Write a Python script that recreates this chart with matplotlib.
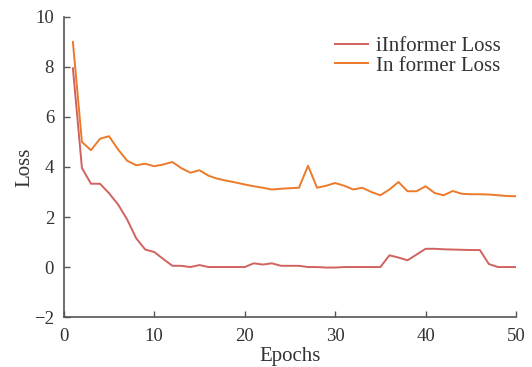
import matplotlib
matplotlib.use("Agg")
import matplotlib.pyplot as plt

epochs = list(range(1, 51))
iinformer_loss = [7.95, 3.96, 3.33, 3.33, 2.95, 2.5, 1.9, 1.15, 0.7, 0.6,
                  0.32, 0.05, 0.05, 0.0, 0.08, 0.0, 0.0, 0.0, 0.0, 0.0,
                  0.15, 0.1, 0.15, 0.05, 0.05, 0.05, 0.0, 0.0, -0.02, -0.02,
                  0.0, 0.0, 0.0, 0.0, 0.0, 0.47, 0.38, 0.27, 0.5, 0.73,
                  0.73, 0.71, 0.7, 0.69, 0.68, 0.68, 0.12, 0.0, 0.0, 0.0]
informer_loss = [9.0, 5.0, 4.67, 5.13, 5.23, 4.7, 4.25, 4.07, 4.13, 4.03,
                 4.1, 4.2, 3.95, 3.77, 3.87, 3.65, 3.53, 3.45, 3.38, 3.3,
                 3.23, 3.17, 3.1, 3.13, 3.15, 3.17, 4.05, 3.17, 3.25, 3.36,
                 3.25, 3.1, 3.17, 3.0, 2.87, 3.1, 3.4, 3.03, 3.03, 3.23,
                 2.96, 2.87, 3.04, 2.93, 2.91, 2.91, 2.9, 2.87, 2.84, 2.83]
xticks = [0, 10, 20, 30, 40, 50]
yticks = [-2, 0, 2, 4, 6, 8, 10]

plt.rcParams['font.family'] = ['Liberation Serif', 'DejaVu Serif']
text_color = '#333333'
spine_color = '#555555'

fig = plt.figure(figsize=(5.32, 3.67), dpi=100)
ax = fig.add_axes([0.120, 0.136, 0.850, 0.818])

ax.plot(epochs, iinformer_loss, color='#d0625f', lw=1.4, label='iInformer Loss')
ax.plot(epochs, informer_loss, color='#ec7a2a', lw=1.4, label='In former Loss')

ax.set_xlim(0, 50)
ax.set_ylim(-2, 10)
ax.set_xticks(xticks)
ax.set_yticks(yticks)
ax.set_xticklabels([str(t) for t in xticks])
ax.set_yticklabels(['\u22122' if t == -2 else str(t) for t in yticks])

for s in ['top', 'right']:
    ax.spines[s].set_visible(False)
for s in ['left', 'bottom']:
    ax.spines[s].set_color(spine_color)
    ax.spines[s].set_linewidth(1.2)

ax.tick_params(direction='in', length=4, width=1.0, colors=spine_color,
               labelcolor=text_color, labelsize=13.5)
ax.tick_params(axis='y', pad=7)
ax.tick_params(axis='x', pad=8)

ax.set_xlabel('Epochs', fontsize=15, color=text_color, labelpad=1)
ax.set_ylabel('Loss', fontsize=15, color=text_color, labelpad=0)

leg = ax.legend(loc='upper right', bbox_to_anchor=(0.985, 0.962), frameon=False,
                fontsize=15, handlelength=1.6, handletextpad=0.4,
                labelspacing=0.0, borderaxespad=0)
for t in leg.get_texts():
    t.set_color(text_color)

fig.savefig('out.png', dpi=100)
